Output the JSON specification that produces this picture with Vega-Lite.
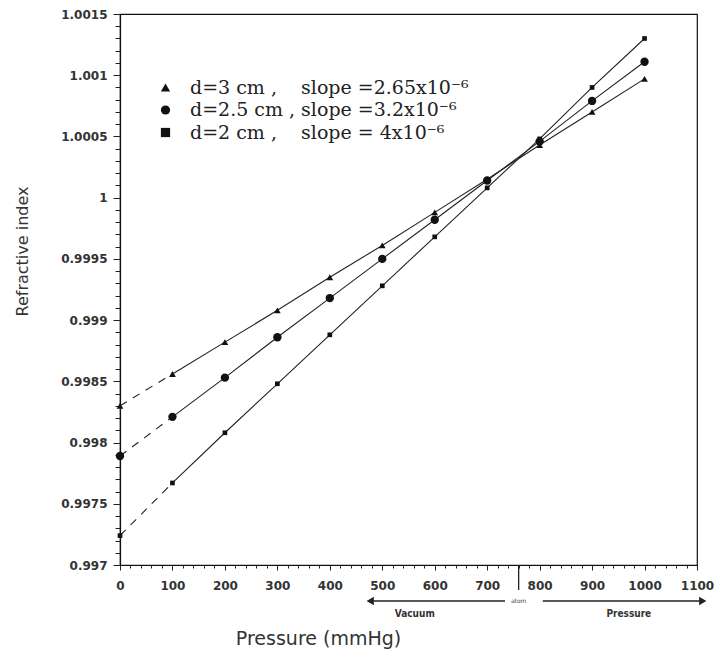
{
  "$schema": "https://vega.github.io/schema/vega-lite/v6.json",
  "width": 577,
  "height": 551,
  "autosize": {"type": "none"},
  "padding": {"left": 120, "top": 14, "right": 17, "bottom": 91},
  "background": "white",
  "config": {
    "view": {"stroke": "#111", "strokeWidth": 1.2},
    "axis": {"domainColor": "#111", "domainWidth": 1.2, "tickColor": "#222", "tickWidth": 1, "grid": false,
      "labelFont": "DejaVu Sans", "labelFontWeight": "bold", "labelFontSize": 12, "labelColor": "#333",
      "titleFont": "DejaVu Sans", "titleFontWeight": "normal", "titleColor": "#333", "labelOverlap": false, "labelFlush": false}
  },
  "datasets": {
    "pts": [
      {"series": "d=3 cm ,\u00a0\u00a0\u00a0 slope =2.65x10\u207b\u2076", "p": 0, "n": 0.9983},
      {"series": "d=3 cm ,\u00a0\u00a0\u00a0 slope =2.65x10\u207b\u2076", "p": 100, "n": 0.99856},
      {"series": "d=3 cm ,\u00a0\u00a0\u00a0 slope =2.65x10\u207b\u2076", "p": 200, "n": 0.99882},
      {"series": "d=3 cm ,\u00a0\u00a0\u00a0 slope =2.65x10\u207b\u2076", "p": 300, "n": 0.99908},
      {"series": "d=3 cm ,\u00a0\u00a0\u00a0 slope =2.65x10\u207b\u2076", "p": 400, "n": 0.99935},
      {"series": "d=3 cm ,\u00a0\u00a0\u00a0 slope =2.65x10\u207b\u2076", "p": 500, "n": 0.99961},
      {"series": "d=3 cm ,\u00a0\u00a0\u00a0 slope =2.65x10\u207b\u2076", "p": 600, "n": 0.99988},
      {"series": "d=3 cm ,\u00a0\u00a0\u00a0 slope =2.65x10\u207b\u2076", "p": 700, "n": 1.00015},
      {"series": "d=3 cm ,\u00a0\u00a0\u00a0 slope =2.65x10\u207b\u2076", "p": 800, "n": 1.00043},
      {"series": "d=3 cm ,\u00a0\u00a0\u00a0 slope =2.65x10\u207b\u2076", "p": 900, "n": 1.0007},
      {"series": "d=3 cm ,\u00a0\u00a0\u00a0 slope =2.65x10\u207b\u2076", "p": 1000, "n": 1.00097},
      {"series": "d=2.5 cm , slope =3.2x10\u207b\u2076", "p": 0, "n": 0.99789},
      {"series": "d=2.5 cm , slope =3.2x10\u207b\u2076", "p": 100, "n": 0.99821},
      {"series": "d=2.5 cm , slope =3.2x10\u207b\u2076", "p": 200, "n": 0.99853},
      {"series": "d=2.5 cm , slope =3.2x10\u207b\u2076", "p": 300, "n": 0.99886},
      {"series": "d=2.5 cm , slope =3.2x10\u207b\u2076", "p": 400, "n": 0.99918},
      {"series": "d=2.5 cm , slope =3.2x10\u207b\u2076", "p": 500, "n": 0.9995},
      {"series": "d=2.5 cm , slope =3.2x10\u207b\u2076", "p": 600, "n": 0.99982},
      {"series": "d=2.5 cm , slope =3.2x10\u207b\u2076", "p": 700, "n": 1.00014},
      {"series": "d=2.5 cm , slope =3.2x10\u207b\u2076", "p": 800, "n": 1.00046},
      {"series": "d=2.5 cm , slope =3.2x10\u207b\u2076", "p": 900, "n": 1.00079},
      {"series": "d=2.5 cm , slope =3.2x10\u207b\u2076", "p": 1000, "n": 1.00111},
      {"series": "d=2 cm ,\u00a0\u00a0\u00a0 slope = 4x10\u207b\u2076", "p": 0, "n": 0.99724},
      {"series": "d=2 cm ,\u00a0\u00a0\u00a0 slope = 4x10\u207b\u2076", "p": 100, "n": 0.99767},
      {"series": "d=2 cm ,\u00a0\u00a0\u00a0 slope = 4x10\u207b\u2076", "p": 200, "n": 0.99808},
      {"series": "d=2 cm ,\u00a0\u00a0\u00a0 slope = 4x10\u207b\u2076", "p": 300, "n": 0.99848},
      {"series": "d=2 cm ,\u00a0\u00a0\u00a0 slope = 4x10\u207b\u2076", "p": 400, "n": 0.99888},
      {"series": "d=2 cm ,\u00a0\u00a0\u00a0 slope = 4x10\u207b\u2076", "p": 500, "n": 0.99928},
      {"series": "d=2 cm ,\u00a0\u00a0\u00a0 slope = 4x10\u207b\u2076", "p": 600, "n": 0.99968},
      {"series": "d=2 cm ,\u00a0\u00a0\u00a0 slope = 4x10\u207b\u2076", "p": 700, "n": 1.00008},
      {"series": "d=2 cm ,\u00a0\u00a0\u00a0 slope = 4x10\u207b\u2076", "p": 800, "n": 1.00048},
      {"series": "d=2 cm ,\u00a0\u00a0\u00a0 slope = 4x10\u207b\u2076", "p": 900, "n": 1.0009},
      {"series": "d=2 cm ,\u00a0\u00a0\u00a0 slope = 4x10\u207b\u2076", "p": 1000, "n": 1.0013}
    ],
    "arrows": [
      {"from": 734, "to": 477, "dir": "left"},
      {"from": 806, "to": 1111, "dir": "right"}
    ],
    "notes": [
      {"p": 562, "label": "Vacuum"},
      {"p": 970, "label": "Pressure"}
    ],
    "atm": [{"p": 760, "label": "atom"}]
  },
  "layer": [
    {
      "data": {"name": "pts"},
      "transform": [{"filter": "datum.p >= 100"}],
      "mark": {"type": "line", "color": "#222", "strokeWidth": 1.1},
      "encoding": {
        "x": {"field": "p", "type": "quantitative",
          "scale": {"domain": [0, 1100], "nice": false, "zero": false},
          "axis": {
            "values": [0,20,40,60,80,100,120,140,160,180,200,220,240,260,280,300,320,340,360,380,400,420,440,460,480,500,520,540,560,580,600,620,640,660,680,700,720,740,760,780,800,820,840,860,880,900,920,940,960,980,1000,1020,1040,1060,1080,1100],
            "tickCount": 200,
            "labelExpr": "datum.value % 100 == 0 ? datum.value : ''",
            "tickSize": {"condition": {"test": "datum.value % 100 == 0", "value": 5}, "value": 3},
            "labelOverlap": false,
            "labelPadding": 10,
            "title": "Pressure (mmHg)", "titleFontSize": 19,
            "titleX": 198, "titleY": 73, "titleAlign": "center", "titleBaseline": "middle"
          }
        },
        "y": {"field": "n", "type": "quantitative",
          "scale": {"domain": [0.997, 1.0015], "nice": false, "zero": false},
          "axis": {
            "values": [0.997,0.9971,0.9972,0.9973,0.9974,0.9975,0.9976,0.9977,0.9978,0.9979,0.998,0.9981,0.9982,0.9983,0.9984,0.9985,0.9986,0.9987,0.9988,0.9989,0.999,0.9991,0.9992,0.9993,0.9994,0.9995,0.9996,0.9997,0.9998,0.9999,1,1.0001,1.0002,1.0003,1.0004,1.0005,1.0006,1.0007,1.0008,1.0009,1.001,1.0011,1.0012,1.0013,1.0014,1.0015],
            "tickCount": 200,
            "labelExpr": "abs(datum.value*2000 - round(datum.value*2000)) < 0.01 ? format(datum.value, '.5~r') : ''",
            "tickSize": {"condition": {"test": "abs(datum.value*2000 - round(datum.value*2000)) < 0.01", "value": 7}, "value": 5},
            "labelOverlap": false,
            "labelPadding": 6,
            "title": "Refractive index", "titleFontSize": 16,
            "titleX": -98, "titleY": 237, "titleAlign": "center", "titleBaseline": "middle", "titleAngle": -90
          }
        },
        "detail": {"field": "series"}
      }
    },
    {
      "data": {"name": "pts"},
      "transform": [{"filter": "datum.p <= 100"}],
      "mark": {"type": "line", "color": "#222", "strokeWidth": 1.1, "strokeDash": [8, 7]},
      "encoding": {
        "x": {"field": "p", "type": "quantitative"},
        "y": {"field": "n", "type": "quantitative"},
        "detail": {"field": "series"}
      }
    },
    {
      "data": {"name": "pts"},
      "mark": {"type": "point", "filled": true, "color": "#111", "opacity": 1},
      "encoding": {
        "x": {"field": "p", "type": "quantitative"},
        "y": {"field": "n", "type": "quantitative"},
        "shape": {"field": "series", "type": "nominal",
          "scale": {"domain": ["d=3 cm ,\u00a0\u00a0\u00a0 slope =2.65x10\u207b\u2076", "d=2.5 cm , slope =3.2x10\u207b\u2076", "d=2 cm ,\u00a0\u00a0\u00a0 slope = 4x10\u207b\u2076"],
            "range": ["triangle-up", "circle", "square"]},
          "legend": {"title": null, "orient": "none", "legendX": 36, "legendY": 64, "padding": 0, "offset": 0,
            "labelFont": "DejaVu Serif", "labelFontSize": 19, "labelColor": "#222", "labelLimit": 450,
            "symbolSize": 85, "symbolFillColor": "#111", "symbolStrokeColor": "#111", "symbolStrokeWidth": 0, "symbolOpacity": 1,
            "rowPadding": 2.5, "labelOffset": 15}
        },
        "size": {"condition": [
            {"test": "indexof(datum.series, 'd=2.5') == 0", "value": 70},
            {"test": "indexof(datum.series, 'd=2 ') == 0", "value": 22}
          ], "value": 45}
      }
    },
    {
      "data": {"name": "arrows"},
      "mark": {"type": "rule", "color": "#222", "strokeWidth": 1.5},
      "encoding": {
        "x": {"field": "from", "type": "quantitative"},
        "x2": {"field": "to"},
        "y": {"datum": 0.996706}
      }
    },
    {
      "data": {"name": "arrows"},
      "transform": [{"filter": "datum.dir == 'left'"}],
      "mark": {"type": "point", "filled": true, "color": "#222", "size": 70, "opacity": 1, "shape": "triangle-left"},
      "encoding": {
        "x": {"field": "to", "type": "quantitative"},
        "y": {"datum": 0.996706}
      }
    },
    {
      "data": {"name": "arrows"},
      "transform": [{"filter": "datum.dir == 'right'"}],
      "mark": {"type": "point", "filled": true, "color": "#222", "size": 70, "opacity": 1, "shape": "triangle-right"},
      "encoding": {
        "x": {"field": "to", "type": "quantitative"},
        "y": {"datum": 0.996706}
      }
    },
    {
      "data": {"name": "atm"},
      "mark": {"type": "rule", "color": "#222", "strokeWidth": 1.3},
      "encoding": {
        "x": {"field": "p", "type": "quantitative"},
        "y": {"datum": 0.997},
        "y2": {"datum": 0.996796}
      }
    },
    {
      "data": {"name": "atm"},
      "mark": {"type": "text", "font": "DejaVu Sans", "fontSize": 6, "color": "#444"},
      "encoding": {
        "x": {"field": "p", "type": "quantitative"},
        "y": {"datum": 0.996706},
        "text": {"field": "label"}
      }
    },
    {
      "data": {"name": "notes"},
      "mark": {"type": "text", "font": "DejaVu Sans Condensed", "fontSize": 10, "fontWeight": "bold", "color": "#333"},
      "encoding": {
        "x": {"field": "p", "type": "quantitative"},
        "y": {"datum": 0.9966},
        "text": {"field": "label"}
      }
    }
  ]
}
